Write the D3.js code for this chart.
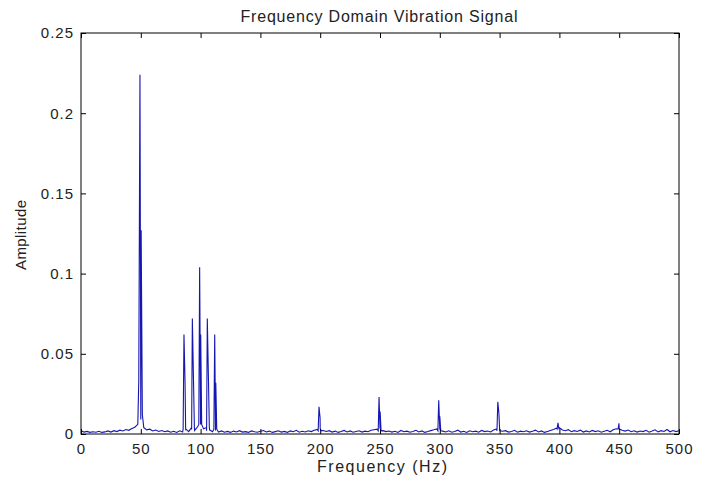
<!DOCTYPE html>
<html>
<head>
<meta charset="utf-8">
<script src="https://cdn.jsdelivr.net/npm/d3@7"></script>
<style>
  body { margin: 0; background: #fff; }
  text { font-family: "Liberation Sans", Arial, sans-serif; fill: #222; }
</style>
</head>
<body>
<svg id="vimage" width="705" height="481"></svg>
<script>
// ---------------- data ----------------
// noise floor, sampled every 2.5 Hz from 0 to 500 Hz
var noiseStep = 2.5;
var noiseAmp = [
  0.0020, 0.0012, 0.0016, 0.0010, 0.0014, 0.0011, 0.0017, 0.0010, 0.0013, 0.0019,
  0.0012, 0.0021, 0.0015, 0.0024, 0.0019, 0.0028, 0.0023, 0.0034, 0.0042, 0.0060,
  0.0090, 0.0040, 0.0026, 0.0030, 0.0019, 0.0025, 0.0016, 0.0022, 0.0014, 0.0019,
  0.0011, 0.0017, 0.0010, 0.0020, 0.0013, 0.0024, 0.0015, 0.0028, 0.0022, 0.0045,
  0.0060, 0.0032, 0.0020, 0.0026, 0.0014, 0.0022, 0.0012, 0.0019, 0.0011,
  0.0016, 0.0010, 0.0018, 0.0013, 0.0021, 0.0012, 0.0015, 0.0010, 0.0019, 0.0014,
  0.0011, 0.0017, 0.0022, 0.0013, 0.0018, 0.0010, 0.0015, 0.0020, 0.0012, 0.0016,
  0.0010, 0.0019, 0.0014, 0.0023, 0.0011, 0.0017, 0.0013, 0.0020, 0.0015, 0.0024,
  0.0029, 0.0035, 0.0022, 0.0016, 0.0021, 0.0012, 0.0018, 0.0010, 0.0015, 0.0022,
  0.0013, 0.0019, 0.0011, 0.0016, 0.0020, 0.0012, 0.0018, 0.0014, 0.0023, 0.0027,
  0.0030, 0.0033, 0.0021, 0.0015, 0.0019, 0.0012, 0.0017, 0.0010, 0.0022, 0.0014,
  0.0018, 0.0011, 0.0016, 0.0023, 0.0013, 0.0019, 0.0010, 0.0015, 0.0021, 0.0026,
  0.0032, 0.0028, 0.0018, 0.0013, 0.0020, 0.0011, 0.0016, 0.0024, 0.0012, 0.0017,
  0.0010, 0.0020, 0.0014, 0.0018, 0.0011, 0.0022, 0.0015, 0.0019, 0.0013, 0.0025,
  0.0031, 0.0029, 0.0017, 0.0021, 0.0012, 0.0016, 0.0023, 0.0011, 0.0018, 0.0014,
  0.0020, 0.0012, 0.0017, 0.0024, 0.0013, 0.0019, 0.0010, 0.0016, 0.0022, 0.0028,
  0.0036, 0.0039, 0.0025, 0.0020, 0.0027, 0.0014, 0.0021, 0.0016, 0.0024, 0.0012,
  0.0019, 0.0013, 0.0022, 0.0015, 0.0020, 0.0011, 0.0017, 0.0023, 0.0014, 0.0026,
  0.0033, 0.0036, 0.0024, 0.0018, 0.0025, 0.0014, 0.0020, 0.0012, 0.0019, 0.0015,
  0.0023, 0.0011, 0.0018, 0.0026, 0.0013, 0.0021, 0.0016, 0.0028, 0.0014, 0.0022,
  0.0015, 0.0020
];

// spectral lines: bin before, main bin, neighbouring bin, bin after
var peakFreq = [48.3, 49.3, 50.3, 51.3,
                85.4, 86.1, 87.0, 87.8,
                92.4, 93.1, 94.0, 94.8,
                98.5, 99.2, 100.1, 100.9,
                104.9, 105.6, 106.5, 107.3,
                111.1, 111.8, 112.7, 113.5,
                198.3, 199.0, 199.9, 200.7,
                248.5, 249.2, 250.1, 250.9,
                298.4, 299.1, 300.0, 300.8,
                347.8, 348.5, 349.4, 350.2,
                398.1, 398.8, 399.6,
                449.1, 449.8, 450.6];
var peakAmp  = [0.033, 0.224, 0.127, 0.012,
                0.003, 0.062, 0.032, 0.003,
                0.004, 0.072, 0.036, 0.004,
                0.006, 0.104, 0.062, 0.006,
                0.004, 0.072, 0.037, 0.004,
                0.003, 0.062, 0.032, 0.003,
                0.002, 0.017, 0.010, 0.002,
                0.002, 0.023, 0.014, 0.002,
                0.002, 0.021, 0.011, 0.002,
                0.002, 0.020, 0.013, 0.002,
                0.003, 0.007, 0.003,
                0.003, 0.0067, 0.003];

var xTicks = [0, 50, 100, 150, 200, 250, 300, 350, 400, 450, 500];
var yTicks = [0, 0.05, 0.1, 0.15, 0.2, 0.25];

// ---------------- layout ----------------
var plotLeft = 81, plotRight = 679, plotTop = 33, plotBottom = 434;

var svg = d3.select("#vimage");

var x = d3.scaleLinear().domain([0, 500]).range([plotLeft, plotRight]);
var y = d3.scaleLinear().domain([0, 0.25]).range([plotBottom, plotTop]);

// merge noise floor and lines into one spectrum sorted by frequency
var spectrum = noiseAmp.map(function(a, i) { return {f: i * noiseStep, a: a}; });
peakFreq.forEach(function(f, i) { spectrum.push({f: f, a: peakAmp[i]}); });
spectrum.sort(function(a, b) { return a.f - b.f; });

var line = d3.line()
  .x(function(d) { return x(d.f); })
  .y(function(d) { return y(d.a); });

svg.append("path")
  .datum(spectrum)
  .attr("d", line)
  .attr("fill", "none")
  .attr("stroke", "#1616b0")
  .attr("stroke-width", 1.1);

// ---------------- axes (ticks point inward, box all round) ----------------
function styleAxis(g) {
  g.select(".domain").remove();
  g.selectAll(".tick line").attr("stroke", "#000");
  g.selectAll(".tick text")
    .style("font-size", "15px")
    .style("letter-spacing", "1px")
    .attr("fill", "#222");
}

svg.append("g")
  .attr("transform", "translate(0," + plotBottom + ")")
  .call(d3.axisBottom(x).tickValues(xTicks).tickSizeInner(-5).tickSizeOuter(0).tickPadding(9))
  .call(styleAxis);

svg.append("g")
  .attr("transform", "translate(0," + plotTop + ")")
  .call(d3.axisTop(x).tickValues(xTicks).tickSizeInner(-5).tickSizeOuter(0).tickFormat(""))
  .call(styleAxis);

svg.append("g")
  .attr("transform", "translate(" + plotLeft + ",0)")
  .call(d3.axisLeft(y).tickValues(yTicks).tickSizeInner(-5).tickSizeOuter(0).tickPadding(7)
    .tickFormat(function(d) { return String(+d.toFixed(2)); }))
  .call(styleAxis);

svg.append("g")
  .attr("transform", "translate(" + plotRight + ",0)")
  .call(d3.axisRight(y).tickValues(yTicks).tickSizeInner(-5).tickSizeOuter(0).tickFormat(""))
  .call(styleAxis);

svg.append("rect")
  .attr("x", plotLeft)
  .attr("y", plotTop)
  .attr("width", plotRight - plotLeft)
  .attr("height", plotBottom - plotTop)
  .attr("fill", "none")
  .attr("stroke", "#000")
  .attr("stroke-width", 1);

// ---------------- titles ----------------
svg.append("text")
  .attr("x", 379)
  .attr("y", 22)
  .attr("text-anchor", "middle")
  .attr("textLength", 277)
  .attr("lengthAdjust", "spacing")
  .style("font-size", "16px")
  .text("Frequency Domain Vibration Signal");

svg.append("text")
  .attr("x", 382)
  .attr("y", 472)
  .attr("text-anchor", "middle")
  .attr("textLength", 130)
  .attr("lengthAdjust", "spacing")
  .style("font-size", "16px")
  .text("Frequency (Hz)");

svg.append("text")
  .attr("transform", "translate(26,235) rotate(-90)")
  .attr("text-anchor", "middle")
  .attr("textLength", 70)
  .attr("lengthAdjust", "spacing")
  .style("font-size", "15px")
  .text("Amplitude");
</script>
</body>
</html>
